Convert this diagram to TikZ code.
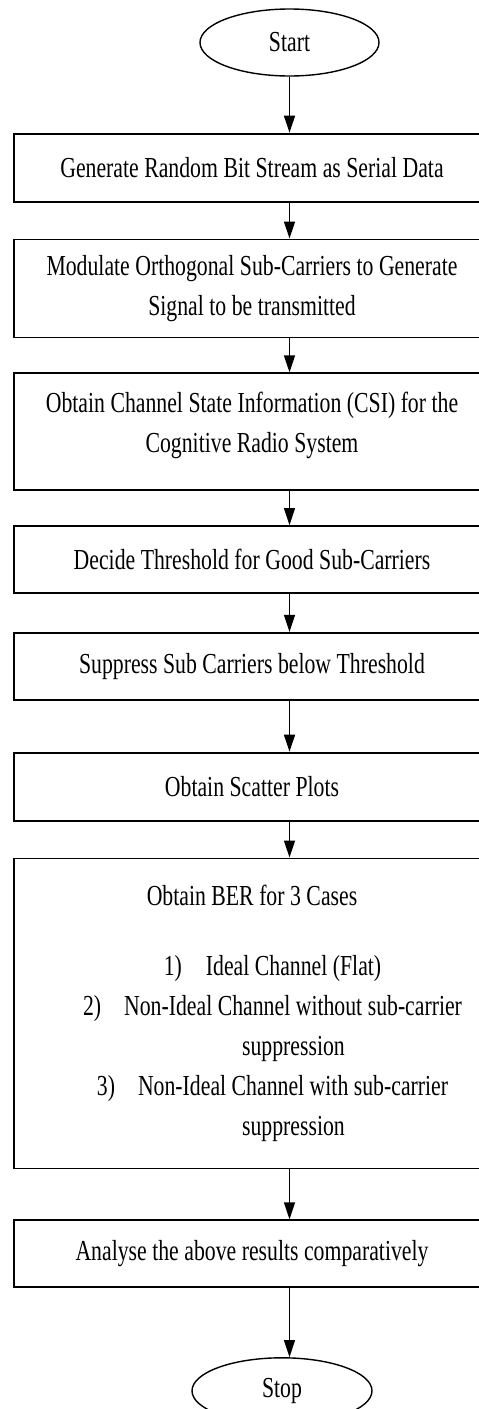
\documentclass[tikz,border=0pt]{standalone}
\usepackage{fontspec}
\setmainfont{Liberation Serif}[FakeStretch=0.75]
\usetikzlibrary{positioning,shapes.geometric,arrows.meta}
\newcommand{\flowfont}{\fontsize{29pt}{40pt}\selectfont\spaceskip=5.5pt\relax}
\begin{document}
\begin{tikzpicture}[x=1pt, y=1pt, node distance=36pt, line width=1.4pt,
	every node/.style={font=\flowfont},
	>={Triangle[width=11pt,length=17pt]},
	stepbox/.style={draw, line width=1.8pt, rectangle, text width=460pt, align=flush center, inner sep=8pt, minimum height=#1},
	stepbox/.default=68pt,
	terminal/.style={draw, ellipse, minimum width=179pt, minimum height=67pt, inner sep=0pt}]
		\useasboundingbox (0,0) rectangle (479,-1409);
		\node[terminal] (start) at (289.5,-42.5) {Start};
		\node[stepbox, below=56pt of start, xshift=-37.5pt] (bitstream) {Generate Random Bit Stream as Serial Data};
		\node[stepbox=98pt, below=of bitstream] (modulate) {Modulate Orthogonal Sub-Carriers to Generate\\Signal to be transmitted};
		\node[stepbox=117pt, below=34pt of modulate] (csi) {Obtain Channel State Information (CSI) for the\\Cognitive Radio System\\[-21pt]\mbox{}};
		\node[stepbox=67pt, below=34pt of csi] (threshold) {Decide Threshold for Good Sub-Carriers};
		\node[stepbox=67pt, below=38pt of threshold] (suppress) {Suppress Sub Carriers below Threshold};
		\node[stepbox, below=51pt of suppress] (scatter) {Obtain Scatter Plots};
		\node[stepbox=310pt, below=of scatter] (ber) {Obtain BER for 3 Cases\\[30pt]
			\hspace*{41pt}1)\hspace{24pt}Ideal Channel (Flat)\\
			\hspace*{41pt}2)\hspace{23pt}Non-Ideal Channel without sub-carrier\\
			\hspace*{83pt}suppression\\
			\hspace*{41pt}3)\hspace{23pt}Non-Ideal Channel with sub-carrier\\
			\hspace*{83pt}suppression};
		\node[stepbox=67pt, below=50pt of ber] (analyse) {Analyse the above results comparatively};
		\node[terminal, minimum width=180pt, minimum height=66pt, below=69pt of analyse, xshift=30pt] (stop) {Stop};
		
		\draw[->] (start.south) -- (bitstream.north -| start);
		\draw[->] (bitstream.south -| start) -- (modulate.north -| start);
		\draw[->] (modulate.south -| start) -- (csi.north -| start);
		\draw[->] (csi.south -| start) -- (threshold.north -| start);
		\draw[->] (threshold.south -| start) -- (suppress.north -| start);
		\draw[->] (suppress.south -| start) -- (scatter.north -| start);
		\draw[->] (scatter.south -| start) -- (ber.north -| start);
		\draw[->] (ber.south -| start) -- (analyse.north -| start);
		\draw[->] (analyse.south -| start) -- (stop.north -| start);
	\end{tikzpicture}
\end{document}
